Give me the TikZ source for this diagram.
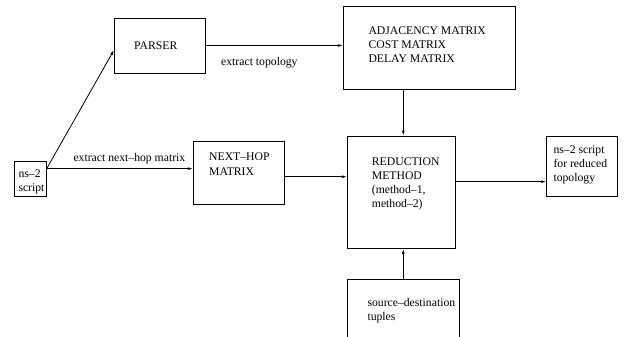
\documentclass[tikz,border=0pt]{standalone}
\usepackage{fontspec}
\setmainfont{Liberation Serif}
\usetikzlibrary{arrows.meta}
\begin{document}
\begin{tikzpicture}[x=1pt,y=-1pt,
  box/.style={draw,line width=0.8pt,inner sep=0pt,minimum width=#1},
  txt/.style={anchor=base west,inner sep=0pt,font=\fontsize{11.7}{13.8}\selectfont},
  conn/.style={line width=0.8pt,-{Latex[length=5pt,width=2.8pt]}}]
\useasboundingbox (0,0) rectangle (629,337);
% boxes
\node[box=91pt,minimum height=55pt] (parser) at (159.5,45.5) {};
\node[box=171.7pt,minimum height=82.6pt] (adj) at (429.2,48) {};
\node[box=108pt,minimum height=112.3pt] (red) at (401.3,192.2) {};
\node[box=91pt,minimum height=62.6pt] (next) at (238.8,173) {};
\node[box=32.4pt,minimum height=35pt] (ns) at (30.5,179.2) {};
\node[box=71pt,minimum height=60.7pt] (out) at (582.2,166.4) {};
\node[inner sep=0pt,minimum width=111.7pt,minimum height=60pt] (src) at (403.2,310) {};
\draw[line width=0.8pt] (src.south west) -- (src.north west) -- (src.north east) -- (src.south east);
% texts
\node[txt] (tparser) at (134,49.3) {PARSER};
\node[txt] (tadj1) at (368.3,35) {ADJACENCY MATRIX};
\node[txt] (tadj2) at (368.3,48.8) {COST MATRIX};
\node[txt] (tadj3) at (368.3,62.6) {DELAY MATRIX};
\node[txt] (tred1) at (371.7,165.7) {REDUCTION};
\node[txt] (tred2) at (371.7,179.5) {METHOD};
\node[txt] (tred3) at (371.7,193.3) {(method–1,};
\node[txt] (tred4) at (371.7,207.1) {method–2)};
\node[txt] (tnext1) at (209,160.7) {NEXT–HOP};
\node[txt] (tnext2) at (209,175.5) {MATRIX};
\node[txt] (tns1) at (18.3,177.3) {ns–2};
\node[txt] (tns2) at (18.3,191.3) {script};
\node[txt] (tout1) at (553.3,153.3) {ns–2 script};
\node[txt] (tout2) at (553.3,167.2) {for reduced};
\node[txt] (tout3) at (553.3,181) {topology};
\node[txt] (tsrc1) at (367.3,306.7) {source–destination};
\node[txt] (tsrc2) at (367.3,320.3) {tuples};
\node[txt] (ltopo) at (221,66) {extract topology};
\node[txt] (lnext) at (73.3,161) {extract next–hop matrix};
% connector endpoints
\coordinate (nsout) at (46.7,168.6);
\coordinate (parserin) at (114,50);
\coordinate (adjout) at (403.3,89.3);
\coordinate (nextout) at (284.3,176.7);
\coordinate (redout) at (455.3,181.7);
% connectors
\draw[conn] (nsout) -- (parserin);
\draw[conn] (nsout) -- (nsout -| next.west);
\draw[conn] (parser.east) -- (parser.east -| adj.west);
\draw[conn] (adjout) -- (adjout |- red.north);
\draw[conn] (nextout) -- (nextout -| red.west);
\draw[conn] (redout) -- (redout -| out.west);
\draw[conn] (adjout |- src.north) -- (adjout |- red.south);
\end{tikzpicture}
\end{document}
